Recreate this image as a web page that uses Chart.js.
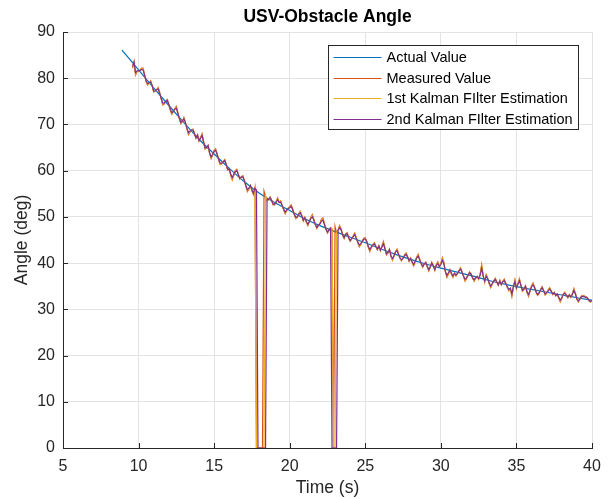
<!DOCTYPE html>
<html>
<head>
<meta charset="utf-8">
<script src="https://cdn.jsdelivr.net/npm/chart.js@4.4.1/dist/chart.umd.min.js"></script>
<style>
  html, body { margin: 0; padding: 0; background: #ffffff; }
  #wrap { width: 612px; height: 499px; position: relative; }
</style>
</head>
<body>
<div id="wrap"><canvas id="c" width="612" height="499"></canvas></div>
<script>
// ---------------- DATA ----------------
const chartTitle = 'USV-Obstacle Angle';
const xAxisLabel = 'Time (s)';
const yAxisLabel = 'Angle (deg)';
const seriesNames = ['Actual Value', 'Measured Value', '1st Kalman FIlter Estimation', '2nd Kalman FIlter Estimation'];
const xTickValues = [5, 10, 15, 20, 25, 30, 35, 40];
const yTickValues = [0, 10, 20, 30, 40, 50, 60, 70, 80, 90];

// Actual (true) angle, sampled once per second
const actualTime = [8.9, 10, 11, 12, 13, 14, 15, 16, 17, 18, 19, 20, 21, 22, 23, 24, 25, 26, 27, 28, 29, 30, 31, 32, 33, 34, 35, 36, 37, 38, 39, 40];
const actualValue = [86.1, 81.8, 77.9, 74.1, 70.4, 66.8, 63.6, 60.5, 57.6, 55.1, 53.1, 51.4, 49.6, 48.1, 46.8, 45.6, 44.4, 43.1, 41.9, 40.8, 39.8, 38.9, 38.1, 37.3, 36.4, 35.6, 34.9, 34.3, 33.7, 33.1, 32.5, 32.0];

// Sensor samples: every 0.1 s from 9.6 s to 40.0 s
const sampleStart = 9.6;
const sampleStep = 0.1;

const measuredValue = [
  82.2, 83.6, 80.7, 81.4,
  81.5, 81.8, 82.2, 82.2, 80.7, 79.3, 78.5, 78.9, 79.4, 78.4,
  77.0, 77.2, 77.6, 78.0, 76.8, 75.5, 74.2, 74.4, 75.0, 75.4,
  74.4, 73.1, 72.2, 72.8, 73.5, 73.9, 72.6, 71.2, 70.2, 70.7,
  71.5, 70.5, 69.0, 67.8, 68.4, 68.8, 69.0, 68.0, 67.0, 67.8,
  66.4, 67.2, 68.0, 66.3, 64.7, 64.9, 65.5, 63.7, 62.6, 63.4,
  64.4, 64.7, 63.6, 62.3, 61.3, 61.5, 62.0, 62.4, 61.3, 60.1,
  60.3, 58.9, 58.0, 59.0, 60.0, 60.3, 59.2, 58.2, 58.7, 58.9,
  57.9, 56.6, 55.5, 56.0, 56.8, 55.7, 54.8, 56.3, 0, 0,
  0, 0, 0, 55.6, 54.5, 53.5, 53.7, 54.3, 53.6, 52.6,
  52.6, 53.3, 54.1, 53.2, 53.5, 52.5, 51.5, 50.7, 51.4, 51.9,
  52.2, 52.6, 51.7, 50.5, 49.6, 49.9, 50.7, 51.2, 50.2, 49.1,
  49.9, 48.9, 48.1, 49.0, 49.9, 50.5, 49.4, 48.3, 47.5, 48.2,
  48.6, 49.5, 49.8, 48.5, 47.3, 46.5, 47.1, 47.7, 47.4, 0,
  47.9, 46.5, 47.2, 48.1, 47.4, 46.0, 45.3, 46.3, 46.6, 45.4,
  44.7, 45.2, 45.9, 46.5, 45.5, 44.5, 43.5, 44.0, 44.8, 45.4,
  45.5, 44.7, 43.4, 42.5, 43.3, 44.0, 44.4, 43.6, 42.9, 43.8,
  42.7, 43.7, 44.7, 43.3, 41.8, 42.2, 43.0, 41.4, 40.6, 41.5,
  42.5, 43.0, 42.0, 41.0, 40.5, 41.1, 41.8, 42.2, 41.4, 40.4,
  41.1, 40.1, 39.4, 40.3, 41.3, 41.9, 40.9, 39.8, 39.1, 39.8,
  40.2, 39.2, 38.3, 39.1, 40.2, 39.5, 38.4, 39.7, 40.3, 39.3,
  39.9, 41.2, 40.2, 38.1, 36.9, 37.6, 38.6, 37.6, 36.9, 37.8,
  37.2, 37.7, 38.4, 39.0, 38.1, 37.1, 36.1, 36.6, 37.4, 38.1,
  37.7, 36.7, 36.1, 36.7, 37.1, 36.5, 37.7, 39.7, 37.4, 35.9,
  37.5, 36.7, 35.5, 34.7, 35.5, 36.2, 36.7, 35.9, 35.2, 36.3,
  35.3, 36.1, 36.5, 35.6, 34.7, 34.0, 34.5, 32.8, 34.8, 36.4,
  34.5, 35.6, 36.6, 35.2, 33.9, 34.3, 35.1, 33.6, 32.8, 33.9,
  35.1, 35.7, 34.8, 33.7, 33.0, 33.4, 34.3, 34.9, 34.1, 33.1,
  33.5, 34.2, 34.7, 34.0, 33.2, 33.7, 32.9, 33.3, 32.4, 31.6,
  32.3, 33.3, 33.7, 33.1, 32.5, 33.2, 32.6, 33.4, 34.5, 33.5,
  32.2, 31.6, 32.2, 32.9, 33.0, 32.9, 32.7, 32.5, 31.9, 31.6,
  31.9
];

const kalman1Value = [
  82.3, 83.5, 80.9, 81.5,
  81.5, 81.8, 82.1, 82.0, 80.6, 79.3, 78.6, 78.9, 79.3, 78.4,
  77.1, 77.2, 77.5, 77.9, 76.8, 75.6, 74.4, 74.5, 75.0, 75.3,
  74.4, 73.2, 72.3, 72.8, 73.4, 73.7, 72.5, 71.2, 70.3, 70.7,
  71.4, 70.4, 69.1, 68.0, 68.5, 68.8, 68.9, 68.0, 67.1, 67.7,
  66.5, 67.1, 67.8, 66.2, 64.8, 64.9, 65.4, 63.8, 62.8, 63.5,
  64.3, 64.5, 63.5, 62.4, 61.4, 61.5, 62.0, 62.3, 61.3, 60.2,
  60.3, 59.1, 58.2, 59.1, 59.9, 60.1, 59.2, 58.2, 58.6, 58.8,
  57.9, 56.6, 55.7, 56.1, 56.8, 55.7, 55.0, 56.2, 0, 0,
  0, 0, 0, 0, 54.5, 53.6, 53.7, 54.2, 53.6, 52.7,
  52.7, 53.3, 53.9, 53.1, 53.4, 52.4, 51.6, 50.8, 51.4, 51.9,
  52.1, 52.4, 51.6, 50.5, 49.7, 50.0, 50.6, 51.1, 50.2, 49.2,
  49.9, 48.9, 48.2, 49.0, 49.8, 50.3, 49.3, 48.3, 47.6, 48.2,
  48.5, 49.3, 49.6, 48.4, 47.3, 46.6, 47.1, 47.6, 47.4, 0,
  0, 46.6, 47.1, 47.9, 47.3, 46.0, 45.4, 46.3, 46.5, 45.5,
  44.8, 45.2, 45.8, 46.3, 45.5, 44.6, 43.7, 44.0, 44.7, 45.3,
  45.4, 44.6, 43.5, 42.7, 43.4, 43.9, 44.3, 43.6, 42.9, 43.7,
  42.7, 43.6, 44.4, 43.2, 41.9, 42.2, 42.9, 41.5, 40.7, 41.6,
  42.4, 42.9, 42.0, 41.0, 40.6, 41.1, 41.7, 42.1, 41.4, 40.5,
  41.1, 40.2, 39.5, 40.3, 41.2, 41.7, 40.8, 39.8, 39.2, 39.8,
  40.2, 39.3, 38.5, 39.1, 40.1, 39.4, 38.5, 39.6, 40.1, 39.2,
  39.8, 40.9, 40.0, 38.2, 37.1, 37.7, 38.5, 37.7, 37.0, 37.8,
  37.3, 37.7, 38.3, 38.9, 38.1, 37.2, 36.3, 36.7, 37.4, 38.0,
  37.6, 36.8, 36.2, 36.7, 37.1, 36.5, 37.5, 39.3, 37.3, 36.0,
  37.4, 36.7, 35.6, 34.8, 35.5, 36.1, 36.6, 35.9, 35.3, 36.2,
  35.3, 36.0, 36.3, 35.5, 34.8, 34.1, 34.5, 33.0, 34.8, 36.2,
  34.5, 35.5, 36.4, 35.1, 33.9, 34.3, 35.0, 33.7, 33.0, 33.9,
  35.0, 35.5, 34.7, 33.7, 33.1, 33.5, 34.2, 34.8, 34.0, 33.2,
  33.5, 34.1, 34.6, 33.9, 33.2, 33.6, 33.0, 33.3, 32.5, 31.8,
  32.4, 33.2, 33.6, 33.0, 32.5, 33.1, 32.6, 33.3, 34.3, 33.4,
  32.2, 31.7, 32.2, 32.8, 32.9, 32.8, 32.6, 32.4, 31.9, 31.6,
  31.9
];

const kalman2Value = [
  82.5, 83.5, 81.2, 81.6,
  81.6, 81.7, 81.9, 81.8, 80.6, 79.4, 78.8, 79.0, 79.2, 78.4,
  77.2, 77.3, 77.5, 77.7, 76.7, 75.6, 74.6, 74.6, 75.0, 75.2,
  74.3, 73.3, 72.5, 72.9, 73.3, 73.5, 72.4, 71.3, 70.4, 70.7,
  71.2, 70.4, 69.2, 68.2, 68.6, 68.8, 68.8, 68.0, 67.1, 67.7,
  66.5, 67.0, 67.6, 66.2, 64.9, 65.0, 65.4, 63.9, 63.0, 63.5,
  64.2, 64.4, 63.5, 62.4, 61.6, 61.6, 61.9, 62.2, 61.3, 60.3,
  60.4, 59.2, 58.5, 59.2, 59.8, 60.0, 59.1, 58.3, 58.6, 58.7,
  57.8, 56.8, 55.9, 56.2, 56.8, 55.8, 55.1, 56.2, 55.8, 0,
  0, 0, 0, 0, 0, 53.7, 53.8, 54.2, 53.6, 52.8,
  52.7, 53.2, 53.7, 53.1, 53.2, 52.4, 51.7, 51.0, 51.5, 51.8,
  52.0, 52.3, 51.5, 50.6, 49.9, 50.0, 50.6, 50.9, 50.2, 49.3,
  49.8, 49.0, 48.4, 49.0, 49.7, 50.0, 49.2, 48.3, 47.7, 48.2,
  48.5, 49.1, 49.3, 48.3, 47.3, 46.7, 47.2, 47.5, 0, 0,
  0, 0, 47.0, 47.7, 47.2, 46.1, 45.5, 46.2, 46.4, 45.5,
  44.9, 45.3, 45.7, 46.2, 45.4, 44.6, 43.9, 44.2, 44.7, 45.2,
  45.2, 44.6, 43.6, 42.9, 43.5, 43.9, 44.2, 43.6, 43.0, 43.7,
  42.8, 43.5, 44.2, 43.1, 42.0, 42.3, 42.9, 41.6, 41.0, 41.6,
  42.4, 42.7, 41.9, 41.1, 40.7, 41.1, 41.6, 41.9, 41.3, 40.5,
  41.0, 40.3, 39.7, 40.4, 41.1, 41.5, 40.7, 39.9, 39.3, 39.8,
  40.1, 39.3, 38.6, 39.2, 40.0, 39.4, 38.6, 39.5, 39.9, 39.2,
  39.7, 40.6, 39.8, 38.2, 37.3, 37.9, 38.5, 37.8, 37.2, 37.8,
  37.4, 37.8, 38.3, 38.7, 38.0, 37.2, 36.5, 36.8, 37.4, 37.9,
  37.6, 36.8, 36.4, 36.8, 37.1, 36.6, 37.4, 38.9, 37.2, 36.1,
  37.2, 36.6, 35.7, 35.0, 35.6, 36.1, 36.5, 35.9, 35.3, 36.1,
  35.4, 36.0, 36.2, 35.5, 34.9, 34.3, 34.6, 33.3, 34.9, 36.0,
  34.6, 35.4, 36.2, 35.1, 34.1, 34.4, 35.0, 33.8, 33.2, 34.0,
  34.9, 35.3, 34.7, 33.8, 33.2, 33.6, 34.2, 34.7, 34.0, 33.3,
  33.6, 34.0, 34.4, 33.9, 33.3, 33.6, 33.0, 33.3, 32.6, 32.0,
  32.5, 33.2, 33.5, 33.0, 32.6, 33.1, 32.7, 33.2, 34.1, 33.3,
  32.3, 31.8, 32.3, 32.7, 32.8, 32.7, 32.6, 32.4, 31.9, 31.7,
  31.9
];

// ---------------- BUILD ----------------
const sampleTimes = measuredValue.map((_, i) => +(sampleStart + i * sampleStep).toFixed(1));
const toXY = (xs, ys) => ys.map((v, i) => ({ x: xs[i], y: v }));

const FONT = "'Liberation Sans', Arial, Helvetica, sans-serif";
const colors = ['#0072BD', '#D95319', '#EDB120', '#7E2F8E'];
const AXIS_COLOR = '#262626';

const decor = {
  id: 'decor',
  afterDraw(chart) {
    const { ctx, chartArea: a, scales: { x, y } } = chart;
    ctx.save();
    // inner tick marks
    ctx.strokeStyle = AXIS_COLOR;
    ctx.lineWidth = 1;
    ctx.beginPath();
    x.ticks.forEach(t => {
      const px = Math.round(x.getPixelForValue(t.value)) + 0.5;
      ctx.moveTo(px, a.bottom); ctx.lineTo(px, a.bottom - 5);
    });
    y.ticks.forEach(t => {
      const py = Math.round(y.getPixelForValue(t.value)) + 0.5;
      ctx.moveTo(a.left, py); ctx.lineTo(a.left + 5, py);
    });
    ctx.stroke();

    // legend box
    const boxW = 250, boxH = 84;
    const bx = Math.round(a.right - 14 - boxW) + 0.5;
    const by = Math.round(a.top + 13) + 0.5;
    ctx.fillStyle = '#ffffff';
    ctx.fillRect(bx, by, boxW, boxH);
    ctx.strokeStyle = AXIS_COLOR;
    ctx.strokeRect(bx, by, boxW, boxH);
    ctx.font = '14.5px ' + FONT;
    ctx.textBaseline = 'middle';
    ctx.textAlign = 'left';
    chart.data.datasets.forEach((ds, i) => {
      const rowY = Math.round(by + 11.5 + i * 20.5) + 0.5;
      ctx.strokeStyle = ds.borderColor;
      ctx.lineWidth = 1.2;
      ctx.beginPath();
      ctx.moveTo(bx + 5, rowY); ctx.lineTo(bx + 53, rowY);
      ctx.stroke();
      ctx.fillStyle = '#000000';
      ctx.fillText(ds.label, bx + 58, rowY + 0.5);
    });
    ctx.restore();
  }
};

const lineDataset = (label, data, color, order) => ({
  label, data, borderColor: color, backgroundColor: color,
  borderWidth: 1.2, pointRadius: 0, pointHoverRadius: 0, showLine: true,
  fill: false, tension: 0, order
});

const datasets = [
  Object.assign(lineDataset(seriesNames[0], toXY(actualTime, actualValue), colors[0], 4), { cubicInterpolationMode: 'monotone' }),
  lineDataset(seriesNames[1], toXY(sampleTimes, measuredValue), colors[1], 3),
  lineDataset(seriesNames[2], toXY(sampleTimes, kalman1Value), colors[2], 2),
  lineDataset(seriesNames[3], toXY(sampleTimes, kalman2Value), colors[3], 1)
];

new Chart(document.getElementById('c'), {
  type: 'scatter',
  data: { datasets },
  options: {
    responsive: false,
    animation: false,
    devicePixelRatio: 1,
    layout: { padding: { left: 0, right: 20, top: 0, bottom: 0 } },
    plugins: {
      legend: { display: false },
      tooltip: { enabled: false },
      title: {
        display: true, text: chartTitle, fullSize: false,
        color: '#000000',
        font: { family: FONT, size: 17.5, weight: 'bold' },
        padding: { top: 6.5, bottom: 4.5 }
      }
    },
    scales: {
      x: {
        type: 'linear', min: 5, max: 40,
        afterBuildTicks: s => { s.ticks = xTickValues.map(v => ({ value: v })); },
        afterFit: s => { s.height = 51; },
        grid: { color: '#e3e3e3', drawTicks: false, lineWidth: 1 },
        border: { color: AXIS_COLOR, width: 1 },
        ticks: { color: AXIS_COLOR, font: { family: FONT, size: 16 }, padding: 9, maxRotation: 0 },
        title: { display: true, text: xAxisLabel, color: AXIS_COLOR, font: { family: FONT, size: 17.5 }, padding: { top: 0, bottom: 0 } }
      },
      y: {
        type: 'linear', min: 0, max: 90,
        afterBuildTicks: s => { s.ticks = yTickValues.map(v => ({ value: v })); },
        afterFit: s => { s.width = 63; },
        grid: { color: '#e3e3e3', drawTicks: false, lineWidth: 1 },
        border: { color: AXIS_COLOR, width: 1 },
        ticks: { color: AXIS_COLOR, font: { family: FONT, size: 16 }, padding: 8 },
        title: { display: true, text: yAxisLabel, color: AXIS_COLOR, font: { family: FONT, size: 17.5 }, padding: { top: 11.5, bottom: 0 } }
      }
    }
  },
  plugins: [decor]
});
</script>
</body>
</html>
